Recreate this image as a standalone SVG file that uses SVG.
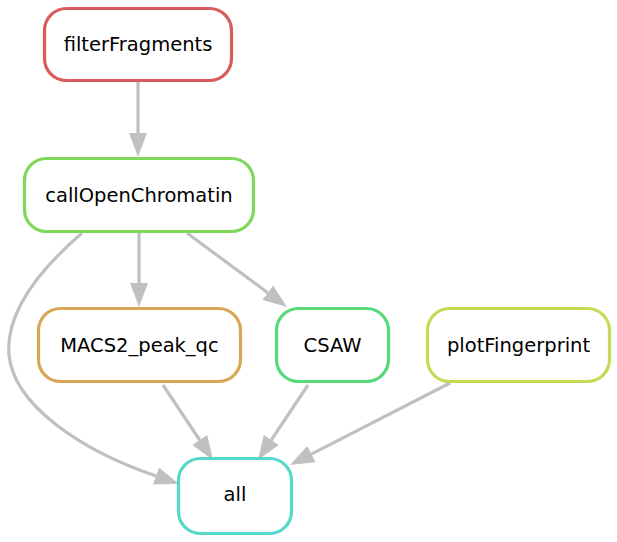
<svg xmlns="http://www.w3.org/2000/svg" width="617" height="542" viewBox="0 0 617 542">
<defs>
<style>
.n rect{fill:#fff;stroke-width:3.2}
.n text{font-family:"DejaVu Sans",sans-serif;font-size:19.5px;fill:#000;text-anchor:middle}
.e path{fill:none;stroke:#c0c0c0;stroke-width:3.2}
</style>
<marker id="ah" markerUnits="userSpaceOnUse" viewBox="0 0 24 18" refX="0" refY="9" markerWidth="24" markerHeight="18" orient="auto">
<path d="M0,0 L24,9 L0,18 Z" fill="#c0c0c0"/>
</marker>
</defs>
<rect width="617" height="542" fill="#fff"/>
<g id="edges" class="e">
<path d="M138,82 L138,133" marker-end="url(#ah)"/>
<path d="M139,233 L139,283" marker-end="url(#ah)"/>
<path d="M187,233 L267.7,292.7" marker-end="url(#ah)"/>
<path d="M82,233 C45,265 5,310 9,355 C14,405 80,450 156,476" marker-end="url(#ah)"/>
<path d="M163,385 L199.7,440" marker-end="url(#ah)"/>
<path d="M308,385 L271.3,440" marker-end="url(#ah)"/>
<path d="M450,383 L311.4,454.1" marker-end="url(#ah)"/>
</g>
<g id="filterFragments" class="n"><rect x="44.5" y="8.5" width="187" height="72" rx="22" stroke="#d95b5b"/><text x="138" y="50.5">filterFragments</text></g>
<g id="callOpenChromatin" class="n"><rect x="24.5" y="158.5" width="229" height="73" rx="22" stroke="#7dd957"/><text x="139" y="201.5">callOpenChromatin</text></g>
<g id="MACS2_peak_qc" class="n"><rect x="38.5" y="308.5" width="202" height="73" rx="22" stroke="#d9a657"/><text x="139.5" y="351.5">MACS2_peak_qc</text></g>
<g id="CSAW" class="n"><rect x="276.5" y="308.5" width="112" height="73" rx="22" stroke="#57d97b"/><text x="332.5" y="351.5">CSAW</text></g>
<g id="plotFingerprint" class="n"><rect x="427.5" y="308.5" width="182" height="73" rx="22" stroke="#c8d957"/><text x="518.5" y="351.5">plotFingerprint</text></g>
<g id="all" class="n"><rect x="178.5" y="458.5" width="113" height="75" rx="22" stroke="#57d9c9"/><text x="235" y="501">all</text></g>
</svg>
